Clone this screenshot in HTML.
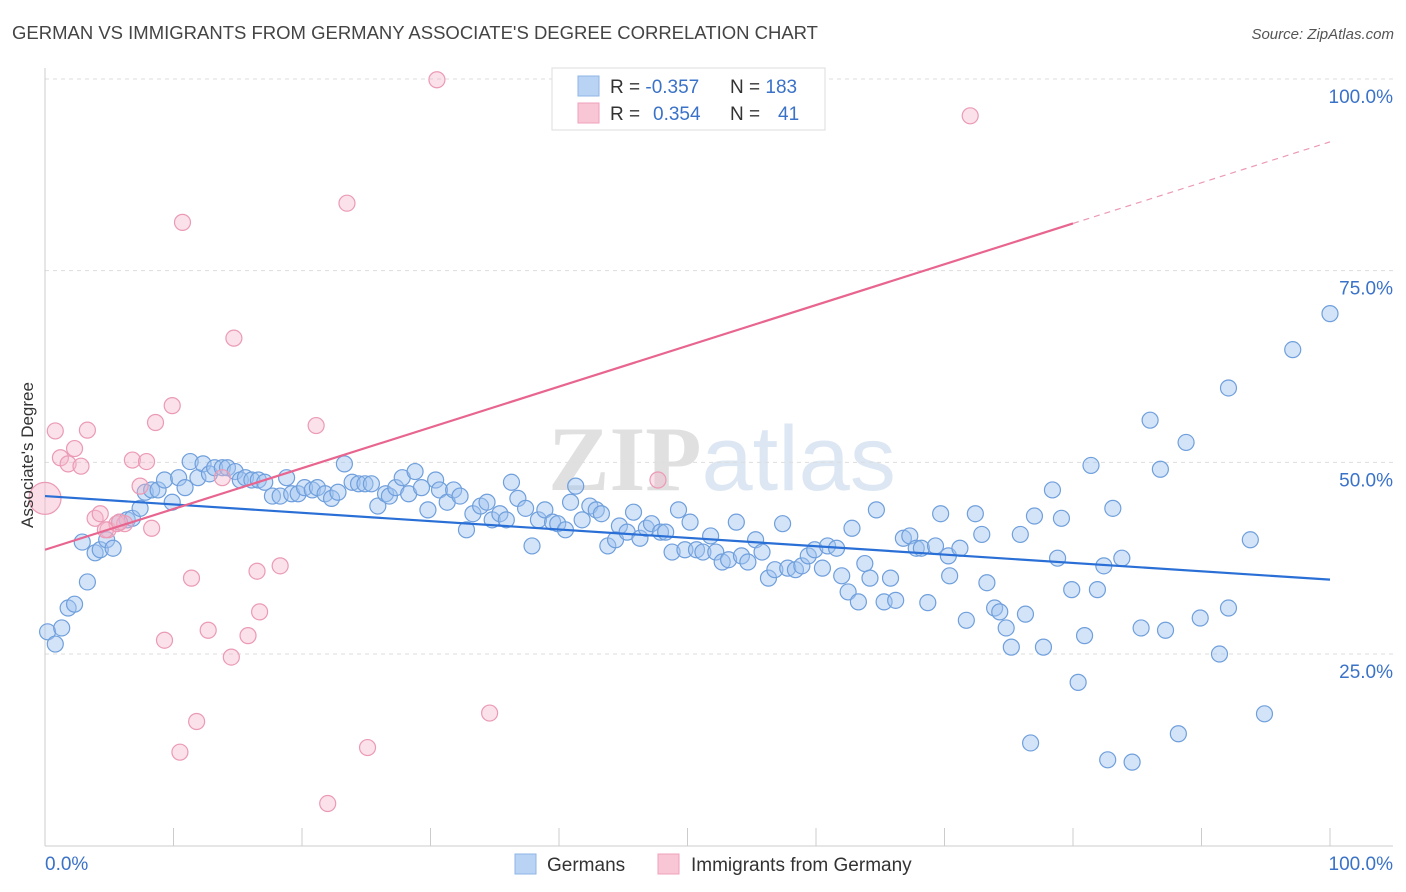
<!DOCTYPE html>
<html><head><meta charset="utf-8"><style>
body{margin:0;background:#fff;font-family:"Liberation Sans",sans-serif;}
</style></head><body>
<svg id="chart" width="1406" height="892" xmlns="http://www.w3.org/2000/svg" style="display:block">
<text x="12" y="39" font-size="18.5" fill="#444">GERMAN VS IMMIGRANTS FROM GERMANY ASSOCIATE'S DEGREE CORRELATION CHART</text>
<text x="1394" y="39" font-size="15" fill="#555" text-anchor="end" font-style="italic">Source: ZipAtlas.com</text>
<text x="722" y="490" font-size="92" fill="#e4e4e4" text-anchor="middle" font-family="Liberation Serif,serif"><tspan font-weight="bold" fill="#e0e0e0">ZIP</tspan><tspan fill="#dde7f3" font-family="Liberation Sans,sans-serif">atlas</tspan></text>
<g id="grid"></g>
<g id="axes"></g>
<g id="marks"></g>
<text transform="translate(33,455) rotate(-90)" font-size="17" fill="#333" text-anchor="middle">Associate's Degree</text>
<g>
<rect x="552" y="68" width="273" height="62" fill="#fff" stroke="#ddd"/>
<rect x="578" y="76" width="21" height="20" fill="#b9d3f5" stroke="#8fb5e8"/>
<rect x="578" y="103" width="21" height="20" fill="#f9c6d5" stroke="#f0a2bb"/>
<text x="610" y="93" font-size="19" fill="#333">R = <tspan fill="#3a72c8">-0.357</tspan></text>
<text x="730" y="93" font-size="19" fill="#333">N = <tspan fill="#3a72c8">183</tspan></text>
<text x="610" y="120" font-size="19" fill="#333">R = <tspan fill="#3a72c8" x="653">0.354</tspan></text>
<text x="730" y="120" font-size="19" fill="#333">N = <tspan fill="#3a72c8" x="778">41</tspan></text>
</g>
<g>
<rect x="515" y="854" width="21" height="20" fill="#b9d3f5" stroke="#8fb5e8"/>
<text x="547" y="871" font-size="19" fill="#333">Germans</text>
<rect x="658" y="854" width="21" height="20" fill="#f9c6d5" stroke="#f0a2bb"/>
<text x="691" y="871" font-size="19" fill="#333">Immigrants from Germany</text>
</g>
</svg>
<script>
const blueX=[0.2,0.8,1.3,1.8,2.3,2.9,3.3,3.9,4.3,4.8,5.3,5.8,6.4,6.8,7.4,7.8,8.3,8.8,9.3,9.9,10.4,10.9,11.3,11.9,12.3,12.8,13.2,13.8,14.2,14.8,15.2,15.6,16.1,16.6,17.1,17.7,18.3,18.8,19.2,19.7,20.2,20.8,21.2,21.8,22.3,22.8,23.3,23.9,24.4,24.9,25.4,25.9,26.5,26.8,27.3,27.8,28.3,28.8,29.3,29.8,30.4,30.7,31.3,31.8,32.3,32.8,33.3,33.9,34.4,34.8,35.4,35.9,36.3,36.8,37.4,37.9,38.4,38.9,39.5,39.9,40.5,40.9,41.3,41.8,42.4,42.9,43.3,43.8,44.4,44.7,45.3,45.8,46.3,46.8,47.2,47.9,48.3,48.8,49.3,49.8,50.2,50.7,51.2,51.8,52.2,52.7,53.2,53.8,54.2,54.7,55.3,55.8,56.3,56.8,57.4,57.8,58.4,58.9,59.4,59.9,60.5,60.9,61.6,62.0,62.5,62.8,63.3,63.8,64.2,64.7,65.3,65.8,66.2,66.8,67.3,67.8,68.2,68.7,69.3,69.7,70.3,70.4,71.2,71.7,72.4,72.9,73.3,73.9,74.3,74.8,75.2,75.9,76.3,77.0,77.7,78.4,78.8,79.1,79.9,80.4,80.9,81.4,81.9,82.4,82.7,83.1,83.8,84.6,85.3,86.0,86.8,87.2,88.2,88.8,89.9,91.4,92.1,92.1,93.8,94.9,97.1,100,76.7];
const blueY=[27.9,26.3,28.4,31.0,31.5,39.6,34.4,38.2,38.6,39.9,38.8,42.2,42.5,42.7,44.0,46.1,46.4,46.4,47.7,44.8,48.0,46.7,50.1,48.0,49.8,48.5,49.3,49.3,49.3,48.8,47.7,48.0,47.7,47.7,47.4,45.6,45.6,48.0,45.9,45.9,46.7,46.4,46.7,45.9,45.3,46.1,49.8,47.4,47.2,47.2,47.2,44.3,45.9,45.6,46.7,48.0,45.9,48.8,46.7,43.8,47.7,46.4,44.8,46.4,45.6,41.2,43.3,44.3,44.8,42.5,43.3,42.5,47.4,45.3,44.0,39.1,42.5,43.8,42.2,42.0,41.2,44.8,46.9,42.5,44.3,43.8,43.3,39.1,39.9,41.7,40.9,43.5,40.1,41.4,42.0,40.9,40.9,38.3,43.8,38.6,42.2,38.6,38.3,40.4,38.3,37.0,37.3,42.2,37.8,37.0,39.9,38.3,34.9,36.0,42.0,36.2,36.0,36.5,37.8,38.6,36.2,39.1,38.8,35.2,33.1,41.4,31.8,36.8,34.9,43.8,31.8,34.9,32.0,40.1,40.4,38.8,38.8,31.7,39.1,43.3,37.8,35.2,38.8,29.4,43.3,40.6,34.3,31.0,30.5,28.4,25.9,40.6,30.2,43.0,25.9,46.4,37.5,42.7,33.4,21.3,27.4,49.6,33.4,36.5,11.2,44.0,37.5,10.9,28.4,55.5,49.1,28.1,14.6,52.6,29.7,25.0,59.7,31.0,39.9,17.2,64.7,69.4,13.4];
const pinkX=[30.5,72.0,10.7,23.5,14.7,9.9,8.6,21.1,0.8,3.3,1.2,2.3,1.8,2.8,6.8,7.9,47.7,7.4,13.8,3.9,4.3,4.9,5.6,6.2,8.3,11.4,16.5,18.3,9.3,12.7,15.8,16.7,14.5,11.8,10.5,34.6,25.1,22.0,4.7,5.8];
const pinkY=[99.9,95.2,81.3,83.8,66.2,57.4,55.2,54.8,54.1,54.2,50.6,51.8,49.8,49.5,50.3,50.1,47.7,46.9,48.0,42.7,43.3,41.2,42.0,42.0,41.4,34.9,35.8,36.5,26.8,28.1,27.4,30.5,24.6,16.2,12.2,17.3,12.8,5.5,41.2,42.2];
const bigPink=[0,45.3];
const blueTrend=[45.6,34.7];
const pinkTrend=[38.6,91.8];
const pinkSolidEnd=80;
const yTicks=[25,50,75,100];
const yTickLabels=["25.0%","50.0%","75.0%","100.0%"];
const xTicks=[0,10,20,30,40,50,60,70,80,90,100];

const NS="http://www.w3.org/2000/svg";
const X=v=>45+v*12.85, Y=v=>845.7-v*7.667;
function mk(tag,attrs,parent){const e=document.createElementNS(NS,tag);for(const k in attrs)e.setAttribute(k,attrs[k]);parent.appendChild(e);return e;}
const grid=document.getElementById('grid'),axes=document.getElementById('axes'),marks=document.getElementById('marks');
yTicks.forEach((t,i)=>{
 const l=mk('line',{x1:45,x2:1393,y1:Y(t),y2:Y(t),stroke:'#ddd','stroke-dasharray':'4,4'},grid);
 
 
 const tx=mk('text',{x:1393,y:Y(t)+24,'font-size':19,fill:'#3a72c8','text-anchor':'end'},axes);
 tx.textContent=yTickLabels[i];
 
 
});
mk('line',{x1:45,x2:45,y1:68,y2:846,stroke:'#ccc'},axes);
mk('line',{x1:45,x2:1393,y1:846,y2:846,stroke:'#ccc'},axes);
xTicks.forEach(t=>{
 const l=mk('line',{x1:X(t),x2:X(t),y1:828,y2:846,stroke:'#ccc'},axes);
 
 
});
const x0=mk('text',{x:45,y:870,'font-size':19,fill:'#3a72c8'},axes);x0.textContent='0.0%';


const x1=mk('text',{x:1393,y:870,'font-size':19,fill:'#3a72c8','text-anchor':'end'},axes);x1.textContent='100.0%';



blueX.forEach((x,i)=>{
 const c=mk('circle',{cx:X(x),cy:Y(blueY[i]),r:8,fill:'rgba(160,195,240,0.45)',stroke:'#6f9fdc','stroke-width':1.2},marks);
 
 
});
pinkX.forEach((x,i)=>{
 const c=mk('circle',{cx:X(x),cy:Y(pinkY[i]),r:8,fill:'rgba(245,180,200,0.4)',stroke:'#eb9ab5','stroke-width':1.2},marks);
 
 
});
const bp=mk('circle',{cx:X(bigPink[0]),cy:Y(bigPink[1]),r:16,fill:'rgba(245,180,200,0.45)',stroke:'#eb9ab5','stroke-width':1.2},marks);


const bt=mk('line',{x1:X(0),y1:Y(blueTrend[0]),x2:X(100),y2:Y(blueTrend[1]),stroke:'#2a6fd6','stroke-width':2.2},marks);


const pAt=v=>pinkTrend[0]+(pinkTrend[1]-pinkTrend[0])*v/100;
const pt=mk('line',{x1:X(0),y1:Y(pAt(0)),x2:X(pinkSolidEnd),y2:Y(pAt(pinkSolidEnd)),stroke:'#e8658f','stroke-width':2.2},marks);


const pd=mk('line',{x1:X(pinkSolidEnd),y1:Y(pAt(pinkSolidEnd)),x2:X(100),y2:Y(pAt(100)),stroke:'#eb9ab5','stroke-width':1.2,'stroke-dasharray':'6,5'},marks);


</script>
</body></html>
